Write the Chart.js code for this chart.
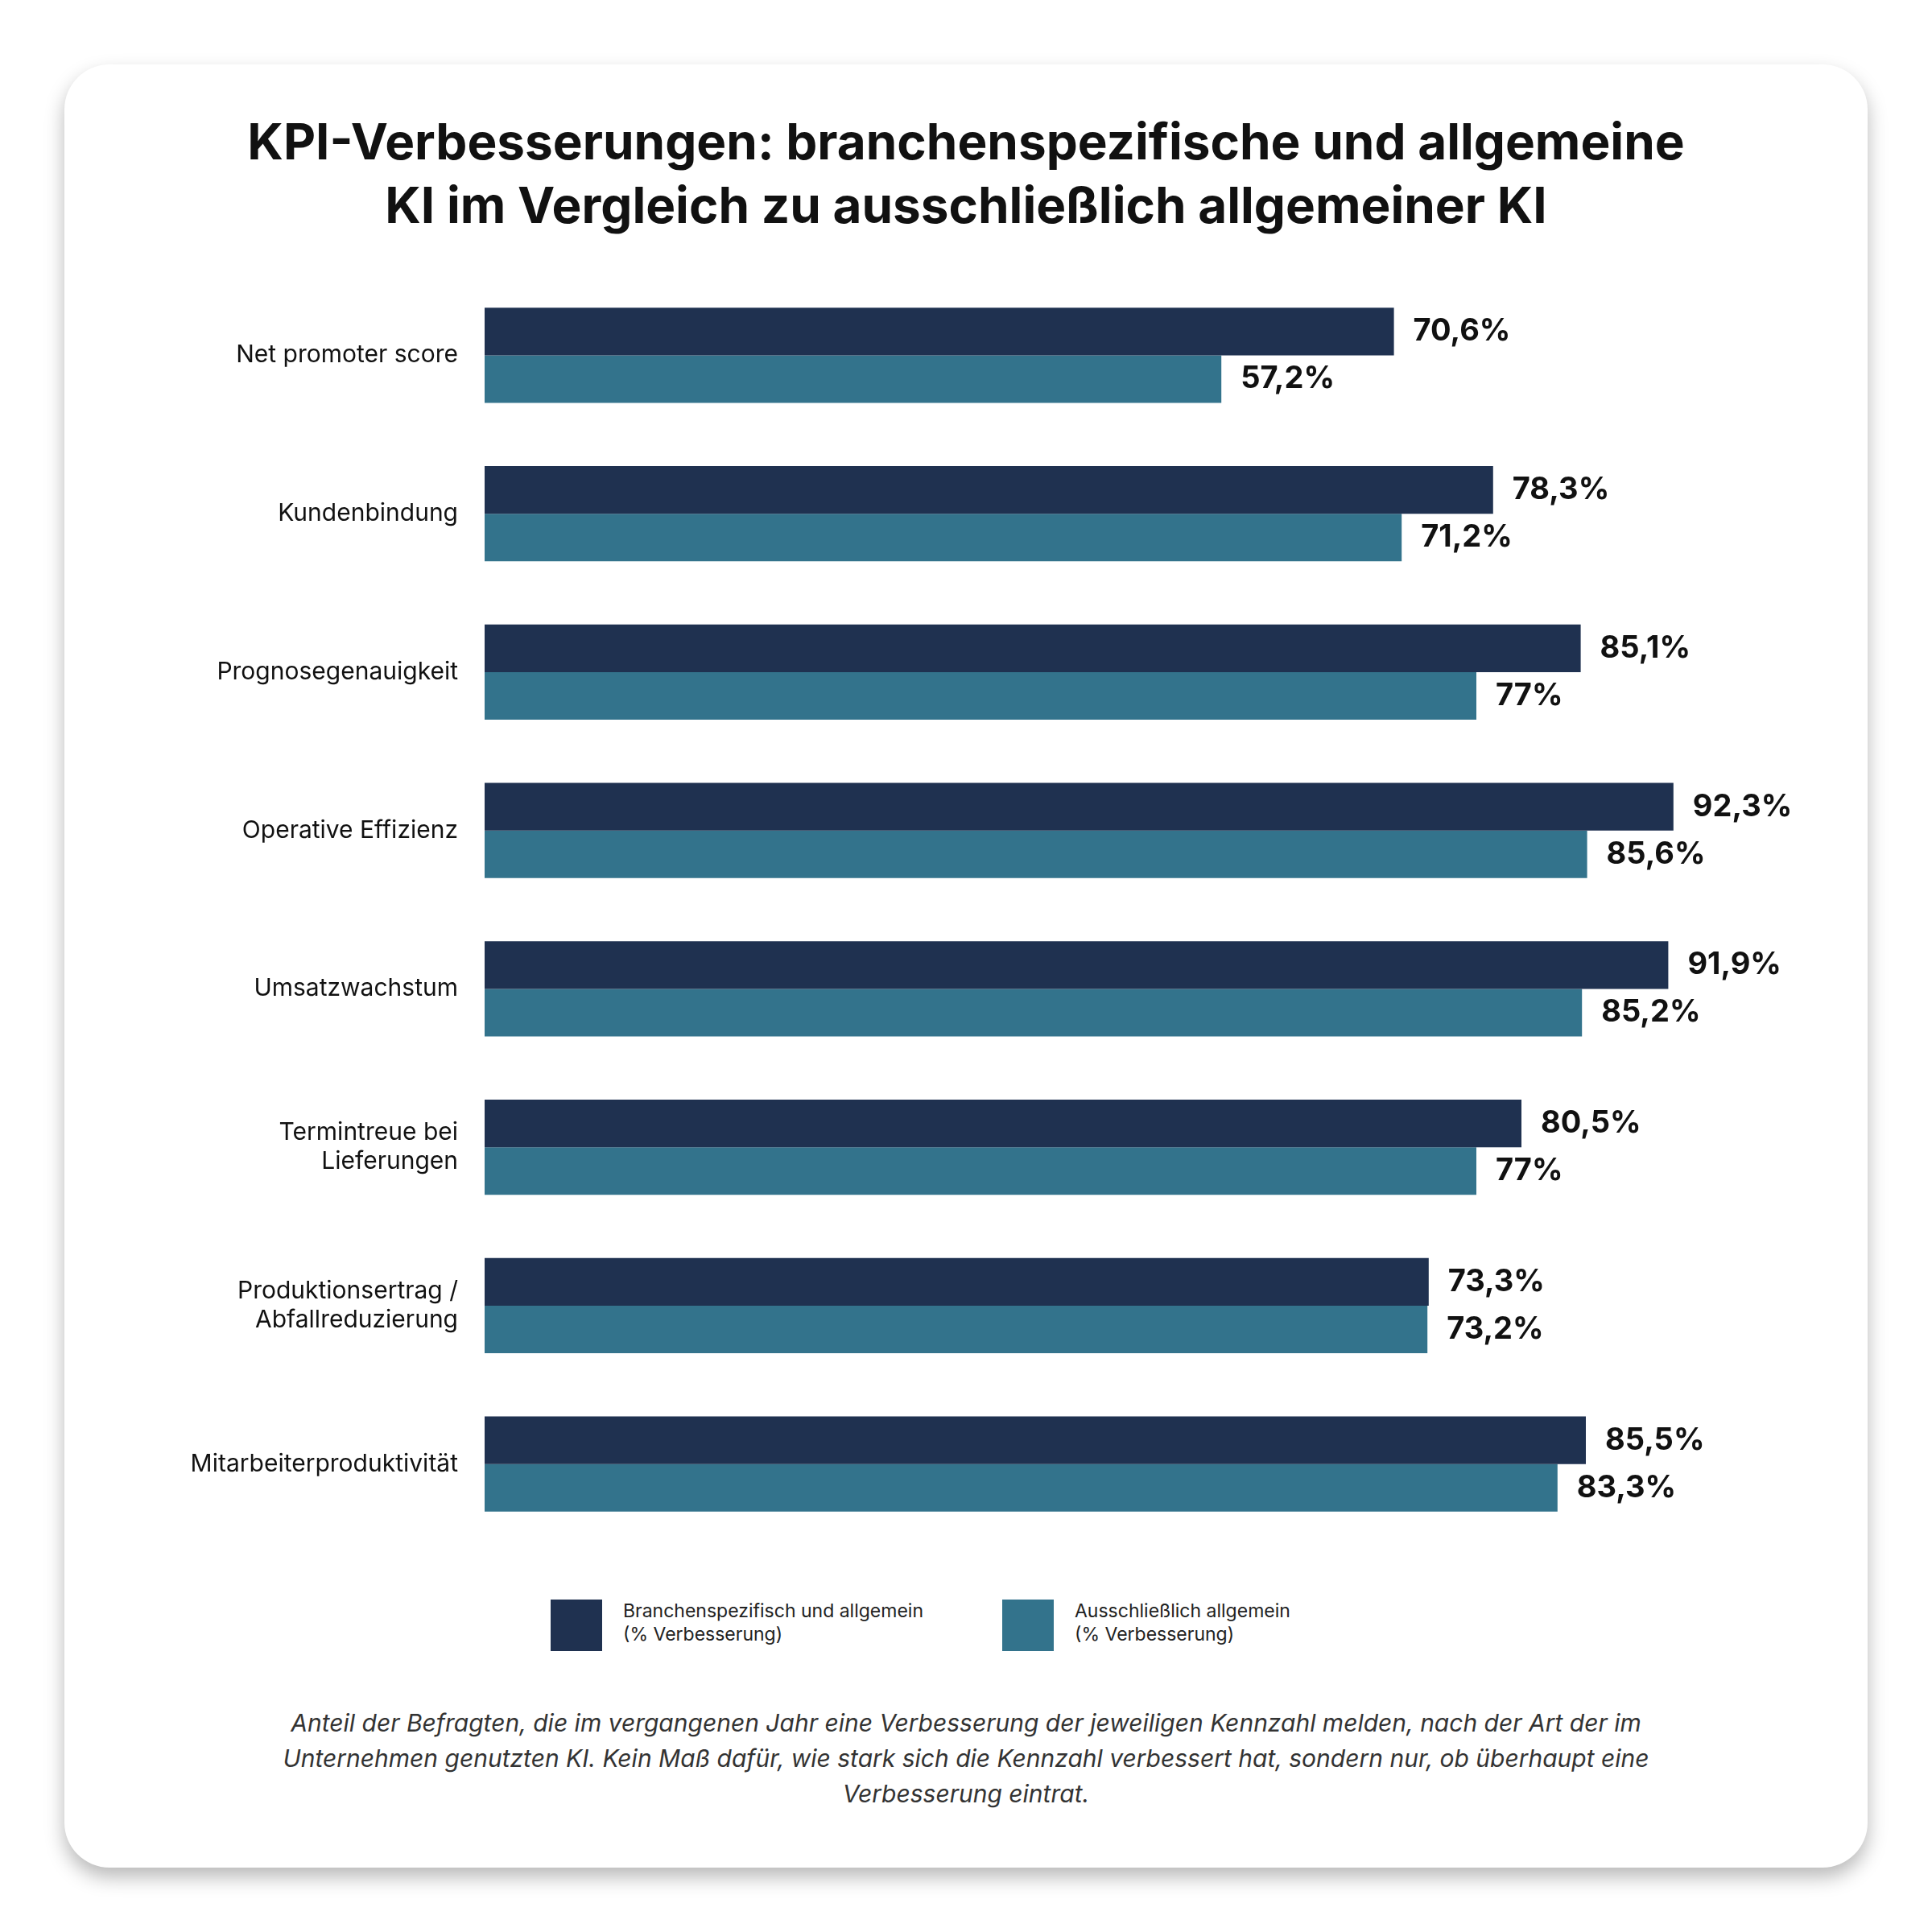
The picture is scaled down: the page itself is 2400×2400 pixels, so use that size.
<!DOCTYPE html>
<html><head><meta charset="utf-8">
<script src="https://cdn.jsdelivr.net/npm/chart.js@4"></script>
<style>
body{margin:0;background:#fff;font-family:Inter,"Noto Sans",sans-serif;}
#page{position:relative;width:2400px;height:2400px;}
#card{position:absolute;left:80px;top:80px;width:2240px;height:2240px;background:#fff;border-radius:56px;box-shadow:0 12px 24px rgba(0,0,0,0.28);}
h1{position:absolute;left:80px;width:2240px;top:136px;margin:0;text-align:center;font-size:62px;line-height:79px;font-weight:700;color:#111;}
#wrap{position:absolute;left:80px;top:300px;width:2240px;height:1660px;}
.leg{position:absolute;top:1987px;display:flex;align-items:flex-start;font-size:23px;line-height:29px;color:#222;}
.leg span{display:inline-block;width:64px;height:64px;margin-right:26px;}
#note{position:absolute;left:300px;width:1800px;top:2118px;text-align:center;font-style:italic;font-size:30px;line-height:44px;color:#333;}
</style></head><body>
<div id="page">
<div id="card"></div>
<h1>KPI-Verbesserungen: branchenspezifische und allgemeine<br>KI im Vergleich zu ausschließlich allgemeiner KI</h1>
<div id="wrap"><canvas id="chart"></canvas></div>
<div class="leg" style="left:684px"><span style="background:#1F3150"></span><div>Branchenspezifisch und allgemein<br>(% Verbesserung)</div></div>
<div class="leg" style="left:1245px"><span style="background:#33738C"></span><div>Ausschließlich allgemein<br>(% Verbesserung)</div></div>
<div id="note">Anteil der Befragten, die im vergangenen Jahr eine Verbesserung der jeweiligen Kennzahl melden, nach der Art der im Unternehmen genutzten KI. Kein Maß dafür, wie stark sich die Kennzahl verbessert hat, sondern nur, ob überhaupt eine Verbesserung eintrat.</div>
</div>
<script>
// data
const categories = ['Net promoter score', 'Kundenbindung', 'Prognosegenauigkeit', 'Operative Effizienz', 'Umsatzwachstum', ['Termintreue bei', 'Lieferungen'], ['Produktionsertrag /', 'Abfallreduzierung'], 'Mitarbeiterproduktivität'];
const branchenUndAllgemein = [70.6, 78.3, 85.1, 92.3, 91.9, 80.5, 73.3, 85.5];
const nurAllgemein = [57.2, 71.2, 77, 85.6, 85.2, 77, 73.2, 83.3];

const fmt = v => String(v).replace('.', ',') + '%';

// value labels at bar ends
const valueLabels = {
    id: 'valueLabels',
    afterDatasetsDraw(chart) {
        const ctx = chart.ctx;
        ctx.save();
        ctx.font = 'bold 38px Inter, sans-serif';
        ctx.fillStyle = '#111';
        ctx.textBaseline = 'middle';
        chart.data.datasets.forEach((ds, i) => {
            chart.getDatasetMeta(i).data.forEach((bar, j) => {
                ctx.fillText(fmt(ds.data[j]), bar.x + 24, bar.y);
            });
        });
        ctx.restore();
    }
};

new Chart(document.querySelector('#chart'), {
    type: 'bar',
    data: {
        labels: categories,
        datasets: [
            { label: 'Branchenspezifisch und allgemein', data: branchenUndAllgemein, backgroundColor: '#1F3150' },
            { label: 'Ausschließlich allgemein', data: nurAllgemein, backgroundColor: '#33738C' }
        ]
    },
    options: {
        indexAxis: 'y',
        responsive: true,
        maintainAspectRatio: false,
        animation: false,
        categoryPercentage: 0.6,
        barPercentage: 1,
        layout: { padding: { top: 35, bottom: 24, right: 118 } },
        plugins: { legend: { display: false }, tooltip: { enabled: false } },
        scales: {
            x: { display: false, min: 0, max: 100 },
            y: {
                grid: { display: false },
                border: { display: false },
                ticks: { color: '#111', font: { size: 30, family: 'Inter, sans-serif' }, padding: 25 },
                afterFit(s) { s.width = 522; }
            }
        }
    },
    plugins: [valueLabels]
});
</script>
</body></html>
